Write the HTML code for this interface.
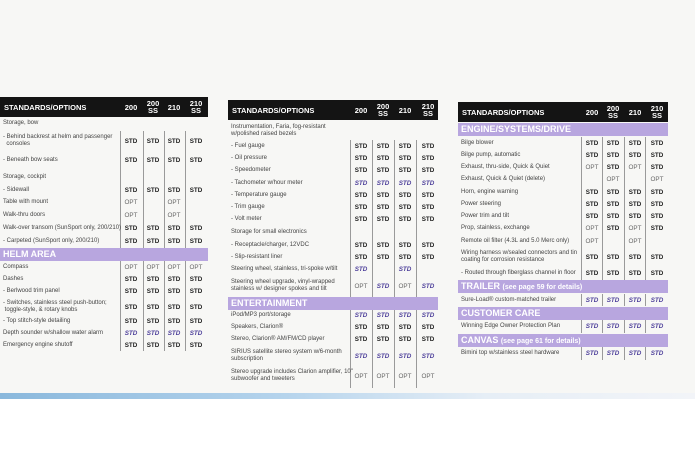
<!DOCTYPE html>
<html><head><meta charset="utf-8"><style>
body{margin:0;width:695px;height:460px;background:#fff;position:relative;overflow:hidden;font-family:"Liberation Sans",sans-serif}
.bg{position:absolute;left:0;top:0;width:695px;height:398px;background:#f7f7f5}
.blue{position:absolute;left:0;top:393px;width:695px;height:6px;background:linear-gradient(90deg,#8ab8dc,#b4d3ec 40%,#e6eef6 70%,#f2f4f8)}
.t{position:absolute;top:0;height:400px}
.h{position:absolute;left:0;height:20px;background:#141414;color:#fff;font-weight:bold;font-size:7.5px}
.h .l{position:absolute;left:4px;top:6px}
.h i{position:absolute;font-style:normal;width:22px;text-align:center;line-height:7px}
.band{position:absolute;left:0;height:13px;background:#b8a6df;color:#fff;font-weight:bold;font-size:9px;line-height:13px;padding-left:3px;box-sizing:border-box}
.band small{font-size:7px}
.v{position:absolute;width:1px;background:#9a9a9a}
.r{position:absolute;left:0;height:8px;font-size:6px;color:#444;line-height:7px}
.r .l{position:absolute;left:3px;top:0;white-space:nowrap}
.r b{position:absolute;top:0;width:22px;text-align:center;font-size:6.3px;color:#222}
.r b.o{font-weight:normal;color:#666}
.r b.s{font-style:italic;color:#4d3f9a}
.t1 .c1{left:120px}.t1 .c2{left:142px}.t1 .c3{left:163px}.t1 .c4{left:185px}
.t2 .c1{left:122px}.t2 .c2{left:144px}.t2 .c3{left:166px}.t2 .c4{left:189px}
.t3 .c1{left:123px}.t3 .c2{left:144px}.t3 .c3{left:166px}.t3 .c4{left:188px}
</style></head><body>
<div class="bg"></div><div class="blue"></div>

<div class="t t1" style="left:0;width:210px">
<div class="h" style="top:97px;width:208px"><span class="l">STANDARDS/OPTIONS</span><i class="c1" style="top:7px">200</i><i class="c2" style="top:3px">200<br>SS</i><i class="c3" style="top:7px">210</i><i class="c4" style="top:3px">210<br>SS</i></div>
<div class="v" style="left:120px;top:131px;height:220px"></div><div class="v" style="left:143px;top:131px;height:220px"></div><div class="v" style="left:164px;top:131px;height:220px"></div><div class="v" style="left:185px;top:131px;height:220px"></div>
<div class="r" style="top:120px"><span class="l">Storage, bow</span></div>
<div class="r" style="top:134px"><span class="l">- Behind backrest at helm and passenger<br>&nbsp;&nbsp;consoles</span><b class="c1" style="top:4px">STD</b><b class="c2" style="top:4px">STD</b><b class="c3" style="top:4px">STD</b><b class="c4" style="top:4px">STD</b></div>
<div class="r" style="top:157px"><span class="l">- Beneath bow seats</span><b class="c1">STD</b><b class="c2">STD</b><b class="c3">STD</b><b class="c4">STD</b></div>
<div class="r" style="top:174px"><span class="l">Storage, cockpit</span></div>
<div class="r" style="top:187px"><span class="l">- Sidewall</span><b class="c1">STD</b><b class="c2">STD</b><b class="c3">STD</b><b class="c4">STD</b></div>
<div class="r" style="top:199px"><span class="l">Table with mount</span><b class="c1 o">OPT</b><b class="c3 o">OPT</b></div>
<div class="r" style="top:212px"><span class="l">Walk-thru doors</span><b class="c1 o">OPT</b><b class="c3 o">OPT</b></div>
<div class="r" style="top:225px"><span class="l">Walk-over transom (SunSport only, 200/210)</span><b class="c1">STD</b><b class="c2">STD</b><b class="c3">STD</b><b class="c4">STD</b></div>
<div class="r" style="top:238px"><span class="l">- Carpeted (SunSport only, 200/210)</span><b class="c1">STD</b><b class="c2">STD</b><b class="c3">STD</b><b class="c4">STD</b></div>
<div class="band" style="top:248px;width:208px">HELM AREA</div>
<div class="r" style="top:264px"><span class="l">Compass</span><b class="c1 o">OPT</b><b class="c2 o">OPT</b><b class="c3 o">OPT</b><b class="c4 o">OPT</b></div>
<div class="r" style="top:276px"><span class="l">Dashes</span><b class="c1">STD</b><b class="c2">STD</b><b class="c3">STD</b><b class="c4">STD</b></div>
<div class="r" style="top:288px"><span class="l">- Berlwood trim panel</span><b class="c1">STD</b><b class="c2">STD</b><b class="c3">STD</b><b class="c4">STD</b></div>
<div class="r" style="top:300px"><span class="l">- Switches, stainless steel push-button;<br>&nbsp;toggle-style, &amp; rotary knobs</span><b class="c1" style="top:4px">STD</b><b class="c2" style="top:4px">STD</b><b class="c3" style="top:4px">STD</b><b class="c4" style="top:4px">STD</b></div>
<div class="r" style="top:318px"><span class="l">- Top stitch-style detailing</span><b class="c1">STD</b><b class="c2">STD</b><b class="c3">STD</b><b class="c4">STD</b></div>
<div class="r" style="top:330px"><span class="l">Depth sounder w/shallow water alarm</span><b class="c1 s">STD</b><b class="c2 s">STD</b><b class="c3 s">STD</b><b class="c4 s">STD</b></div>
<div class="r" style="top:342px"><span class="l">Emergency engine shutoff</span><b class="c1">STD</b><b class="c2">STD</b><b class="c3">STD</b><b class="c4">STD</b></div>
</div>

<div class="t t2" style="left:228px;width:212px">
<div class="h" style="top:100px;width:210px"><span class="l">STANDARDS/OPTIONS</span><i class="c1" style="top:7px">200</i><i class="c2" style="top:3px">200<br>SS</i><i class="c3" style="top:7px">210</i><i class="c4" style="top:3px">210<br>SS</i></div>
<div class="v" style="left:122px;top:140px;height:248px"></div><div class="v" style="left:144px;top:140px;height:248px"></div><div class="v" style="left:166px;top:140px;height:248px"></div><div class="v" style="left:188px;top:140px;height:248px"></div>
<div class="r" style="top:124px"><span class="l">Instrumentation, Faria, fog-resistant<br>w/polished raised bezels</span></div>
<div class="r" style="top:143px"><span class="l">- Fuel gauge</span><b class="c1">STD</b><b class="c2">STD</b><b class="c3">STD</b><b class="c4">STD</b></div>
<div class="r" style="top:155px"><span class="l">- Oil pressure</span><b class="c1">STD</b><b class="c2">STD</b><b class="c3">STD</b><b class="c4">STD</b></div>
<div class="r" style="top:167px"><span class="l">- Speedometer</span><b class="c1">STD</b><b class="c2">STD</b><b class="c3">STD</b><b class="c4">STD</b></div>
<div class="r" style="top:180px"><span class="l">- Tachometer w/hour meter</span><b class="c1 s">STD</b><b class="c2 s">STD</b><b class="c3 s">STD</b><b class="c4 s">STD</b></div>
<div class="r" style="top:192px"><span class="l">- Temperature gauge</span><b class="c1">STD</b><b class="c2">STD</b><b class="c3">STD</b><b class="c4">STD</b></div>
<div class="r" style="top:204px"><span class="l">- Trim gauge</span><b class="c1">STD</b><b class="c2">STD</b><b class="c3">STD</b><b class="c4">STD</b></div>
<div class="r" style="top:216px"><span class="l">- Volt meter</span><b class="c1">STD</b><b class="c2">STD</b><b class="c3">STD</b><b class="c4">STD</b></div>
<div class="r" style="top:229px"><span class="l">Storage for small electronics</span></div>
<div class="r" style="top:242px"><span class="l">- Receptacle/charger, 12VDC</span><b class="c1">STD</b><b class="c2">STD</b><b class="c3">STD</b><b class="c4">STD</b></div>
<div class="r" style="top:254px"><span class="l">- Slip-resistant liner</span><b class="c1">STD</b><b class="c2">STD</b><b class="c3">STD</b><b class="c4">STD</b></div>
<div class="r" style="top:266px"><span class="l">Steering wheel, stainless, tri-spoke w/tilt</span><b class="c1 s">STD</b><b class="c3 s">STD</b></div>
<div class="r" style="top:279px"><span class="l">Steering wheel upgrade, vinyl-wrapped<br>stainless w/ designer spokes and tilt</span><b class="c1 o" style="top:4px">OPT</b><b class="c2 s" style="top:4px">STD</b><b class="c3 o" style="top:4px">OPT</b><b class="c4 s" style="top:4px">STD</b></div>
<div class="band" style="top:297px;width:210px">ENTERTAINMENT</div>
<div class="r" style="top:312px"><span class="l">iPod/MP3 port/storage</span><b class="c1 s">STD</b><b class="c2 s">STD</b><b class="c3 s">STD</b><b class="c4 s">STD</b></div>
<div class="r" style="top:324px"><span class="l">Speakers, Clarion®</span><b class="c1">STD</b><b class="c2">STD</b><b class="c3">STD</b><b class="c4">STD</b></div>
<div class="r" style="top:336px"><span class="l">Stereo, Clarion® AM/FM/CD player</span><b class="c1">STD</b><b class="c2">STD</b><b class="c3">STD</b><b class="c4">STD</b></div>
<div class="r" style="top:349px"><span class="l">SIRIUS satellite stereo system w/6-month<br>subscription</span><b class="c1 s" style="top:4px">STD</b><b class="c2 s" style="top:4px">STD</b><b class="c3 s" style="top:4px">STD</b><b class="c4 s" style="top:4px">STD</b></div>
<div class="r" style="top:369px"><span class="l">Stereo upgrade includes Clarion amplifier, 10"<br>subwoofer and tweeters</span><b class="c1 o" style="top:4px">OPT</b><b class="c2 o" style="top:4px">OPT</b><b class="c3 o" style="top:4px">OPT</b><b class="c4 o" style="top:4px">OPT</b></div>
</div>

<div class="t t3" style="left:458px;width:212px">
<div class="h" style="top:102px;width:210px"><span class="l">STANDARDS/OPTIONS</span><i class="c1" style="top:7px">200</i><i class="c2" style="top:3px">200<br>SS</i><i class="c3" style="top:7px">210</i><i class="c4" style="top:3px">210<br>SS</i></div>
<div class="band" style="top:123px;width:210px">ENGINE/SYSTEMS/DRIVE</div>
<div class="v" style="left:123px;top:137px;height:143px"></div><div class="v" style="left:144px;top:137px;height:143px"></div><div class="v" style="left:166px;top:137px;height:143px"></div><div class="v" style="left:187px;top:137px;height:143px"></div>
<div class="v" style="left:123px;top:294px;height:12px"></div><div class="v" style="left:144px;top:294px;height:12px"></div><div class="v" style="left:166px;top:294px;height:12px"></div><div class="v" style="left:187px;top:294px;height:12px"></div>
<div class="v" style="left:123px;top:320px;height:13px"></div><div class="v" style="left:144px;top:320px;height:13px"></div><div class="v" style="left:166px;top:320px;height:13px"></div><div class="v" style="left:187px;top:320px;height:13px"></div>
<div class="v" style="left:123px;top:347px;height:13px"></div><div class="v" style="left:144px;top:347px;height:13px"></div><div class="v" style="left:166px;top:347px;height:13px"></div><div class="v" style="left:187px;top:347px;height:13px"></div>
<div class="r" style="top:140px"><span class="l">Bilge blower</span><b class="c1">STD</b><b class="c2">STD</b><b class="c3">STD</b><b class="c4">STD</b></div>
<div class="r" style="top:152px"><span class="l">Bilge pump, automatic</span><b class="c1">STD</b><b class="c2">STD</b><b class="c3">STD</b><b class="c4">STD</b></div>
<div class="r" style="top:164px"><span class="l">Exhaust, thru-side, Quick &amp; Quiet</span><b class="c1 o">OPT</b><b class="c2">STD</b><b class="c3 o">OPT</b><b class="c4">STD</b></div>
<div class="r" style="top:176px"><span class="l">Exhaust, Quick &amp; Quiet (delete)</span><b class="c2 o">OPT</b><b class="c4 o">OPT</b></div>
<div class="r" style="top:189px"><span class="l">Horn, engine warning</span><b class="c1">STD</b><b class="c2">STD</b><b class="c3">STD</b><b class="c4">STD</b></div>
<div class="r" style="top:201px"><span class="l">Power steering</span><b class="c1">STD</b><b class="c2">STD</b><b class="c3">STD</b><b class="c4">STD</b></div>
<div class="r" style="top:213px"><span class="l">Power trim and tilt</span><b class="c1">STD</b><b class="c2">STD</b><b class="c3">STD</b><b class="c4">STD</b></div>
<div class="r" style="top:225px"><span class="l">Prop, stainless, exchange</span><b class="c1 o">OPT</b><b class="c2">STD</b><b class="c3 o">OPT</b><b class="c4">STD</b></div>
<div class="r" style="top:238px"><span class="l">Remote oil filter (4.3L and 5.0 Merc only)</span><b class="c1 o">OPT</b><b class="c3 o">OPT</b></div>
<div class="r" style="top:250px"><span class="l">Wiring harness w/sealed connectors and tin<br>coating for corrosion resistance</span><b class="c1" style="top:4px">STD</b><b class="c2" style="top:4px">STD</b><b class="c3" style="top:4px">STD</b><b class="c4" style="top:4px">STD</b></div>
<div class="r" style="top:270px"><span class="l">- Routed through fiberglass channel in floor</span><b class="c1">STD</b><b class="c2">STD</b><b class="c3">STD</b><b class="c4">STD</b></div>
<div class="band" style="top:280px;width:210px">TRAILER <small>(see page 59 for details)</small></div>
<div class="r" style="top:297px"><span class="l">Sure-Load® custom-matched trailer</span><b class="c1 s">STD</b><b class="c2 s">STD</b><b class="c3 s">STD</b><b class="c4 s">STD</b></div>
<div class="band" style="top:307px;width:210px">CUSTOMER CARE</div>
<div class="r" style="top:323px"><span class="l">Winning Edge Owner Protection Plan</span><b class="c1 s">STD</b><b class="c2 s">STD</b><b class="c3 s">STD</b><b class="c4 s">STD</b></div>
<div class="band" style="top:334px;width:210px">CANVAS <small>(see page 61 for details)</small></div>
<div class="r" style="top:350px"><span class="l">Bimini top w/stainless steel hardware</span><b class="c1 s">STD</b><b class="c2 s">STD</b><b class="c3 s">STD</b><b class="c4 s">STD</b></div>
</div>
</body></html>
